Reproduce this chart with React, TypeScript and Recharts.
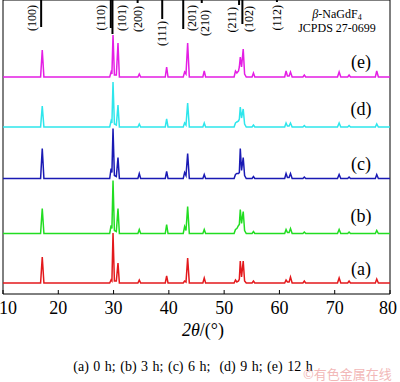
import { LineChart, Line, XAxis, YAxis, ReferenceLine, ReferenceArea } from "recharts";

const SERIF = "'Liberation Serif', 'Times New Roman', serif";

// 2θ ticks
const twoThetaTicks = [10, 20, 30, 40, 50, 60, 70, 80];

// JCPDS 27-0699 reference sticks
const refHkl = ["(100)", "(110)", "(101)", "(200)", "(111)", "(201)", "(210)", "(211)", "(102)", "(112)"];
const refPos = [16.9, 29.5, 29.8, 34.35, 38.8, 42.6, 45.95, 52.7, 53.3, 59.55];
const refLen = [27, 28, 34, 3, 19, 29, 3, 5, 24, 2];

// measured patterns: [2θ, intensity above own baseline]
const pattern0h: [number, number][] = [
  [10, 0], [16.8, 0], [17.1, 26], [17.4, 0],
  [29.3, 0], [29.55, 3], [29.7, 2], [29.9, 50], [30.15, 2], [30.5, 2], [30.8, 20], [31.05, 0],
  [34.4, 0], [34.65, 3], [34.9, 0],
  [39.35, 0], [39.6, 7], [39.85, 0],
  [42.6, 0], [42.85, 2], [43.1, 1], [43.4, 25], [43.7, 0],
  [46.15, 0], [46.4, 5], [46.65, 0],
  [51.8, 0], [52.05, 3], [52.3, 1], [52.6, 2], [52.75, 4], [52.92, 22], [53.15, 6], [53.45, 22], [53.7, 2], [54.0, 0],
  [55.05, 0], [55.3, 2], [55.55, 0],
  [60.95, 0], [61.2, 3], [61.45, 1], [61.75, 1], [62.0, 6], [62.3, 0],
  [64.25, 0], [64.5, 2], [64.75, 0],
  [70.5, 0], [70.8, 5], [71.1, 0],
  [72.35, 0], [72.6, 2], [72.85, 0],
  [77.35, 0], [77.6, 4], [77.9, 0],
  [80, 0],
];

const pattern3h: [number, number][] = [
  [10, 0], [16.8, 0], [17.1, 25], [17.4, 0],
  [29.3, 0], [29.55, 8], [29.7, 5], [29.9, 53], [30.15, 3], [30.5, 2], [30.8, 25], [31.05, 0],
  [34.4, 0], [34.65, 4], [34.9, 0],
  [39.35, 0], [39.6, 9], [39.85, 0],
  [42.6, 0], [42.85, 7], [43.1, 3], [43.4, 27], [43.7, 0],
  [46.15, 0], [46.4, 4], [46.65, 0],
  [51.8, 0], [52.05, 4], [52.3, 5], [52.6, 8], [52.75, 9], [52.92, 24], [53.15, 10], [53.45, 22], [53.7, 3], [54.0, 0],
  [55.05, 0], [55.3, 2], [55.55, 0],
  [60.95, 0], [61.2, 4], [61.45, 1], [61.75, 1], [62.0, 5], [62.3, 0],
  [64.25, 0], [64.5, 1.5], [64.75, 0],
  [70.5, 0], [70.8, 4], [71.1, 0],
  [72.35, 0], [72.6, 1.5], [72.85, 0],
  [77.35, 0], [77.6, 3], [77.9, 0],
  [80, 0],
];

const pattern6h: [number, number][] = [
  [10, 0], [16.8, 0], [17.1, 30], [17.4, 0],
  [29.3, 0], [29.55, 10], [29.7, 6], [29.9, 50], [30.15, 3], [30.5, 2], [30.8, 21], [31.05, 0],
  [34.4, 0], [34.65, 5], [34.9, 0],
  [39.35, 0], [39.6, 7], [39.85, 0],
  [42.6, 0], [42.85, 6], [43.1, 3], [43.4, 25], [43.7, 0],
  [46.15, 0], [46.4, 4], [46.65, 0],
  [51.8, 0], [52.05, 4], [52.3, 5], [52.6, 5], [52.75, 6], [52.92, 30], [53.15, 8], [53.45, 21], [53.7, 3], [54.0, 0],
  [55.05, 0], [55.3, 2], [55.55, 0],
  [60.95, 0], [61.2, 5], [61.45, 1], [61.75, 1], [62.0, 5], [62.3, 0],
  [64.25, 0], [64.5, 1.5], [64.75, 0],
  [70.5, 0], [70.8, 4], [71.1, 0],
  [72.35, 0], [72.6, 1.5], [72.85, 0],
  [77.35, 0], [77.6, 4], [77.9, 0],
  [80, 0],
];

const pattern9h: [number, number][] = [
  [10, 0], [16.8, 0], [17.1, 21], [17.4, 0],
  [29.3, 0], [29.55, 6], [29.7, 4], [29.9, 45], [30.15, 3], [30.5, 2], [30.8, 22], [31.05, 0],
  [34.4, 0], [34.65, 3], [34.9, 0],
  [39.35, 0], [39.6, 8], [39.85, 0],
  [42.6, 0], [42.85, 4], [43.1, 2], [43.4, 24], [43.7, 0],
  [46.15, 0], [46.4, 4], [46.65, 0],
  [51.8, 0], [52.05, 4], [52.3, 5], [52.6, 6], [52.75, 8], [52.92, 20], [53.15, 9], [53.45, 18], [53.7, 3], [54.0, 0],
  [55.05, 0], [55.3, 2], [55.55, 0],
  [60.95, 0], [61.2, 4], [61.45, 1], [61.75, 1], [62.0, 4], [62.3, 0],
  [64.25, 0], [64.5, 1.5], [64.75, 0],
  [70.5, 0], [70.8, 4], [71.1, 0],
  [72.35, 0], [72.6, 1.5], [72.85, 0],
  [77.35, 0], [77.6, 3], [77.9, 0],
  [80, 0],
];

const pattern12h: [number, number][] = [
  [10, 0], [16.8, 0], [17.1, 27], [17.4, 0],
  [29.3, 0], [29.55, 5], [29.7, 3], [29.9, 42], [30.15, 2], [30.5, 2], [30.8, 34], [31.05, 0],
  [34.4, 0], [34.65, 3], [34.9, 0],
  [39.35, 0], [39.6, 10], [39.85, 0],
  [42.6, 0], [42.85, 5], [43.1, 3], [43.4, 34], [43.7, 0],
  [46.15, 0], [46.4, 6], [46.65, 0],
  [51.8, 0], [52.05, 6], [52.3, 4], [52.6, 6], [52.75, 10], [52.92, 20], [53.15, 10], [53.45, 28], [53.7, 3], [54.0, 0],
  [55.05, 0], [55.3, 4], [55.55, 0],
  [60.95, 0], [61.2, 6], [61.45, 1], [61.75, 1], [62.0, 5], [62.3, 0],
  [64.25, 0], [64.5, 2], [64.75, 0],
  [70.5, 0], [70.8, 5], [71.1, 0],
  [72.35, 0], [72.6, 2], [72.85, 0],
  [77.35, 0], [77.6, 6], [77.9, 0],
  [80, 0],
];

const traceLabels = ["(a)", "(b)", "(c)", "(d)", "(e)"];
const patterns = [pattern0h, pattern3h, pattern6h, pattern9h, pattern12h];

// layout / style
const traceColors = ["#e3191c", "#22dd22", "#1a1ab4", "#2ee6ec", "#e41ee4"];
const traceOffsets = [11, 60.5, 115.5, 167, 217];
const traceLabelTops = [258, 205, 153, 98, 51];
const refLabelDx = [-9, -10, 10, 0, 0, 9, 3, -7, 7, 0];
const refLabelTop = [5, 5, 5, 6, 21, 5, 10, 7, 6, 5];

const XTick = (props: any) => {
  const { x, y, payload } = props;
  const tx = payload.value === 10 ? x + 5 : payload.value === 80 ? x - 2 : x;
  return (
    <g>
      <line x1={x} x2={x} y1={y} y2={y - 4} stroke="#000" strokeWidth={1} />
      <text x={tx} y={y + 20} textAnchor="middle" fontSize={18} fontFamily={SERIF} fill="#000">
        {payload.value}
      </text>
    </g>
  );
};

const refLabel = (i: number) => (props: any) => {
  const vb = props.viewBox || {};
  const cx = vb.x + refLabelDx[i];
  const top = refLabelTop[i];
  return (
    <text
      x={cx}
      y={top}
      transform={`rotate(-90, ${cx}, ${top})`}
      textAnchor="end"
      dominantBaseline="central"
      fontSize={12}
      fontFamily={SERIF}
      fill="#000"
    >
      {refHkl[i]}
    </text>
  );
};

export default function App() {
  return (
    <div
      style={{
        position: "absolute",
        left: 0,
        top: 0,
        width: 400,
        height: 382,
        background: "#fff",
        fontFamily: SERIF,
        color: "#000",
        overflow: "hidden",
      }}
    >
      <LineChart width={400} height={382} margin={{ top: 0, right: 10, left: 3, bottom: 0 }}>
        <XAxis
          dataKey="x"
          type="number"
          domain={[10, 80]}
          ticks={twoThetaTicks}
          interval={0}
          allowDataOverflow
          axisLine={false}
          tickLine={false}
          tickSize={0}
          tickMargin={0}
          height={88}
          tick={<XTick />}
        />
        <YAxis hide type="number" domain={[0, 294]} allowDataOverflow />
        <ReferenceArea x1={10} x2={80} y1={0} y2={294} fill="none" stroke="#000" strokeWidth={1} ifOverflow="visible" />
        {patterns.map((pts, i) => (
          <Line
            key={traceLabels[i]}
            data={pts.map(([x, h]) => ({ x, y: h + traceOffsets[i] }))}
            dataKey="y"
            type="linear"
            stroke={traceColors[i]}
            strokeWidth={1.5}
            dot={false}
            activeDot={false}
            isAnimationActive={false}
          />
        ))}
        {refPos.map((p, i) => (
          <ReferenceLine
            key={refHkl[i]}
            segment={[
              { x: p, y: 294 },
              { x: p, y: 294 - refLen[i] },
            ]}
            stroke="#000"
            strokeWidth={2}
            ifOverflow="visible"
            label={refLabel(i)}
          />
        ))}
      </LineChart>

      {traceLabels.map((t, i) => (
        <div
          key={t}
          style={{ position: "absolute", left: 340, width: 42, textAlign: "center", top: traceLabelTops[i], fontSize: 18, lineHeight: "22px" }}
        >
          {t}
        </div>
      ))}

      <div style={{ position: "absolute", left: 288, width: 98, top: 8, textAlign: "center", fontSize: 12, lineHeight: "12px" }}>
        <div>
          <i>β</i>-NaGdF<span style={{ fontSize: 8, position: "relative", top: 2 }}>4</span>
        </div>
        <div>JCPDS 27-0699</div>
      </div>

      <div style={{ position: "absolute", left: 153, width: 100, top: 319, textAlign: "center", fontSize: 18, lineHeight: "22px", fontFamily: SERIF }}>
        <i>2θ</i>/(°)
      </div>

      <div
        style={{
          position: "absolute",
          left: 0,
          width: 386,
          top: 358,
          textAlign: "center",
          fontSize: 14,
          lineHeight: "17px",
          whiteSpace: "pre",
          wordSpacing: 1,
        }}
      >
        {"(a) 0 h; (b) 3 h; (c) 6 h;  (d) 9 h; (e) 12 h"}
      </div>

      <div
        style={{
          position: "absolute",
          left: 303,
          top: 366,
          fontSize: 13,
          lineHeight: "16px",
          color: "#f2b8b8",
          fontFamily: "'Noto Sans CJK SC', sans-serif",
          whiteSpace: "nowrap",
        }}
      >
        ©有色金属在线
      </div>
    </div>
  );
}
